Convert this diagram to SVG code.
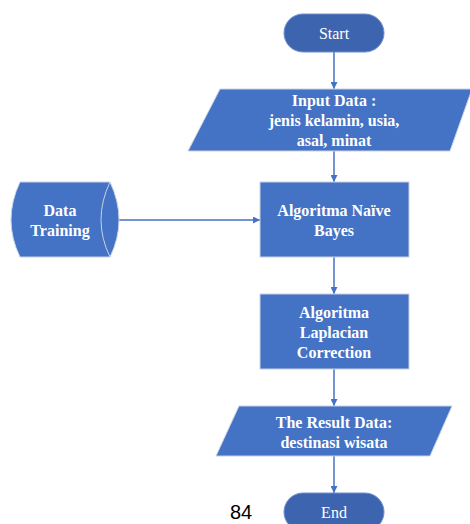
<svg xmlns="http://www.w3.org/2000/svg" width="470" height="524" viewBox="0 0 470 524">
<style>
.shape{fill:#4472c4;stroke:#c8d2e6;stroke-width:1}
.term{fill:#3d64ae;stroke:#6f8fcf;stroke-width:1}
.t{font-family:"Liberation Serif","Times New Roman",serif;font-size:16px;font-weight:bold;fill:#ffffff;text-anchor:middle}
.tn{font-family:"Liberation Serif","Times New Roman",serif;font-size:16px;fill:#ffffff;text-anchor:middle}
.c{stroke:#4472c4;stroke-width:1.5;fill:none}
</style>
<defs>
<marker id="ah" viewBox="0 0 10 10" refX="10" refY="5" markerWidth="7" markerHeight="7" markerUnits="userSpaceOnUse" orient="auto">
<path d="M0,0 L10,5 L0,10 z" fill="#4472c4"/>
</marker>
</defs>
<g id="connectors">
<line class="c" x1="334" y1="52" x2="334" y2="89" marker-end="url(#ah)"/>
<line class="c" x1="334" y1="151" x2="334" y2="182" marker-end="url(#ah)"/>
<line class="c" x1="119" y1="220" x2="260" y2="220" marker-end="url(#ah)"/>
<line class="c" x1="334" y1="257" x2="334" y2="294" marker-end="url(#ah)"/>
<line class="c" x1="334" y1="369" x2="334" y2="406" marker-end="url(#ah)"/>
<line class="c" x1="334" y1="456" x2="334" y2="493" marker-end="url(#ah)"/>
</g>
<g id="start">
<rect class="term" x="284" y="14" width="100" height="38" rx="19" ry="19"/>
<text class="tn" x="334" y="38.5">Start</text>
</g>
<g id="input">
<polygon class="shape" points="220,89 472,89 450,151 188,151"/>
<text class="t" x="334" y="105.5">Input Data :</text>
<text class="t" x="334" y="125.5">jenis kelamin, usia,</text>
<text class="t" x="334" y="145.5">asal, minat</text>
</g>
<g id="training">
<path class="shape" d="M20,182 L110,182 Q128,220 110,257 L20,257 Q2,220 20,182 Z"/>
<path class="shape" style="fill:none" d="M110,182 Q92,220 110,257"/>
<text class="t" x="60" y="215.5">Data</text>
<text class="t" x="60" y="235.5">Training</text>
</g>
<g id="naive">
<rect class="shape" x="260" y="182" width="149" height="75"/>
<text class="t" x="334" y="215.5">Algoritma Naïve</text>
<text class="t" x="334" y="235.5">Bayes</text>
</g>
<g id="laplacian">
<rect class="shape" x="260" y="294" width="149" height="75"/>
<text class="t" x="334" y="317.5">Algoritma</text>
<text class="t" x="334" y="337.5">Laplacian</text>
<text class="t" x="334" y="357.5">Correction</text>
</g>
<g id="result">
<polygon class="shape" points="239,406 452,406 430,456 216,456"/>
<text class="t" x="334" y="427.5">The Result Data:</text>
<text class="t" x="334" y="447.5">destinasi wisata</text>
</g>
<g id="end">
<rect class="term" x="284" y="493" width="100" height="38" rx="19" ry="19"/>
<text class="tn" x="334" y="518">End</text>
</g>
<text x="230" y="519" font-family="Liberation Sans,Arial,sans-serif" font-size="20" fill="#000000">84</text>
</svg>
